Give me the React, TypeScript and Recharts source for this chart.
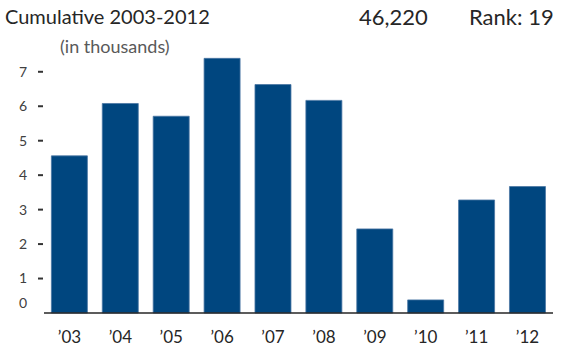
import React from 'react';
import { BarChart, Bar, XAxis, YAxis } from 'recharts';

// Jaren en waarden (duizenden)
const years = ['’03', '’04', '’05', '’06', '’07', '’08', '’09', '’10', '’11', '’12'];
const values = [4.56, 6.08, 5.71, 7.39, 6.63, 6.17, 2.44, 0.38, 3.28, 3.67];
const yTicks = [0, 1, 2, 3, 4, 5, 6, 7];

const title = 'Cumulative 2003-2012';
const total = '46,220';
const rank = 'Rank: 19';
const unitLabel = '(in thousands)';

const data = years.map((year, i) => ({ year, value: values[i] }));

const FONT = 'Lato, "Open Sans", sans-serif';

// Y-tick: getal plus los streepje, geen streepje bij 0
const YTick = (props: any) => {
  const { x, y, payload } = props;
  const isZero = payload.value === 0;
  return (
    <g>
      {!isZero && <line x1={x - 6} x2={x - 1} y1={y} y2={y} stroke="#333" strokeWidth={2} />}
      <text
        x={x - 17}
        y={isZero ? y - 10 : y}
        dy="0.35em"
        textAnchor="end"
        fontSize={14}
        fill="#404040"
        fontFamily={FONT}
      >
        {payload.value}
      </text>
    </g>
  );
};

const App: React.FC = () => {
  return (
    <div style={{ position: 'absolute', left: 0, top: 0, width: 562, height: 349, fontFamily: FONT, background: '#fff' }}>
      {/* Titelregel */}
      <div style={{ position: 'absolute', left: 5, top: 4, fontSize: 20, color: '#262626' }}>{title}</div>
      <div style={{ position: 'absolute', left: 359, top: 3, fontSize: 22, color: '#262626' }}>{total}</div>
      <div style={{ position: 'absolute', left: 469, top: 3, fontSize: 22, color: '#262626' }}>{rank}</div>
      <div style={{ position: 'absolute', left: 60, top: 35, fontSize: 18, color: '#595959' }}>{unitLabel}</div>

      <BarChart
        width={562}
        height={349}
        data={data}
        margin={{ top: 58, right: 9, bottom: 0, left: 0 }}
        barCategoryGap="14.5%"
      >
        <XAxis
          dataKey="year"
          height={36}
          tickLine={false}
          tickSize={0}
          tickMargin={18}
          axisLine={{ stroke: '#262626', strokeWidth: 1.5 }}
          tick={{ fontSize: 17, fill: '#262626', fontFamily: FONT }}
          interval={0}
        />
        <YAxis
          width={44}
          domain={[0, 7.4]}
          ticks={yTicks}
          axisLine={false}
          tickLine={false}
          tickSize={0}
          tickMargin={0}
          tick={<YTick />}
          interval={0}
        />
        <Bar dataKey="value" fill="#00467f" stroke="#4a76a3" strokeWidth={0.8} isAnimationActive={false} />
      </BarChart>
    </div>
  );
};

export default App;
